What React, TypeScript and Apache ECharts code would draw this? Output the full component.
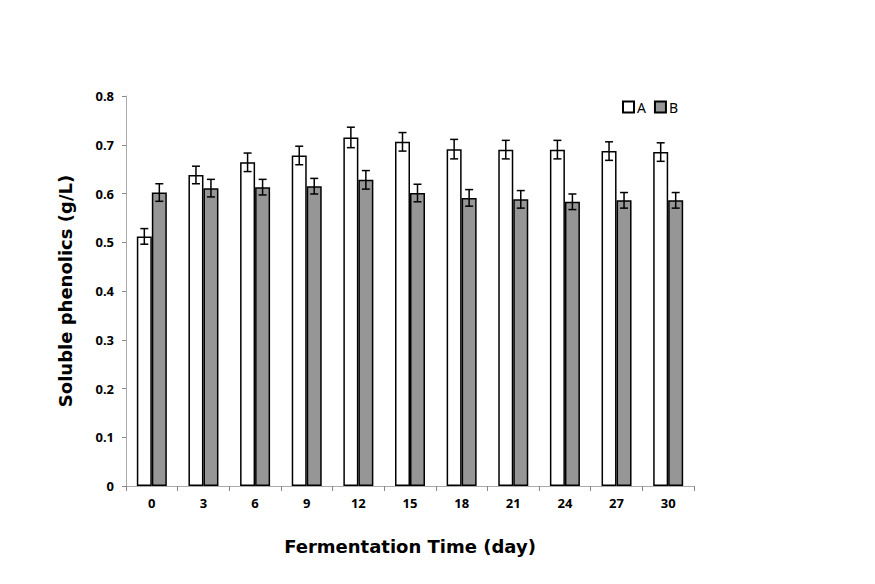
import React, { useEffect, useRef } from "react";
import * as echarts from "echarts";

const categories = ["0", "3", "6", "9", "12", "15", "18", "21", "24", "27", "30"];
const seriesA = [0.512, 0.638, 0.664, 0.678, 0.715, 0.706, 0.691, 0.690, 0.690, 0.687, 0.685];
const errA = [0.016, 0.018, 0.019, 0.019, 0.021, 0.019, 0.020, 0.019, 0.019, 0.019, 0.019];
const seriesB = [0.602, 0.611, 0.613, 0.615, 0.628, 0.601, 0.591, 0.588, 0.583, 0.586, 0.586];
const errB = [0.018, 0.018, 0.016, 0.016, 0.019, 0.018, 0.017, 0.018, 0.016, 0.016, 0.016];
const yTicks = [0, 0.1, 0.2, 0.3, 0.4, 0.5, 0.6, 0.7, 0.8];

const FONT = "'Noto Sans', 'Open Sans', sans-serif";
const TITLE_FONT = "'DejaVu Sans', 'Noto Sans', sans-serif";
const BAR_W = 15;

function errorSeries(name: string, vals: number[], errs: number[], offset: number) {
  return {
    type: "custom",
    name: name + "_err",
    z: 10,
    silent: true,
    data: vals.map((v, i) => [i, v, errs[i]]),
    renderItem: (params: any, api: any) => {
      const i = api.value(0);
      const v = api.value(1);
      const e = api.value(2);
      const top = api.coord([i, v + e]);
      const bot = api.coord([i, v - e]);
      const x = top[0] + offset;
      const cap = 4;
      const style = { stroke: "#000", lineWidth: 1.5 };
      return {
        type: "group",
        children: [
          { type: "line", shape: { x1: x, y1: top[1], x2: x, y2: bot[1] }, style },
          { type: "line", shape: { x1: x - cap, y1: top[1], x2: x + cap, y2: top[1] }, style },
          { type: "line", shape: { x1: x - cap, y1: bot[1], x2: x + cap, y2: bot[1] }, style },
        ],
      };
    },
  };
}

export default function App() {
  const ref = useRef<HTMLDivElement>(null);
  useEffect(() => {
    if (!ref.current) return;
    const chart = echarts.init(ref.current, null, { renderer: "svg" });
    chart.setOption({
      animation: false,
      backgroundColor: "#fff",
      textStyle: { fontFamily: FONT },
      grid: { left: 118, right: 173, top: 88, bottom: 90 },
      legend: {
        left: 609,
        top: 87,
        itemWidth: 11,
        itemHeight: 11,
        itemGap: 8,
        icon: "rect",
        data: ["A", "B"],
        textStyle: { fontFamily: FONT, fontSize: 14, fontWeight: "normal", color: "#000", padding: [0, 0, 0, -2] },
      },
      xAxis: {
        type: "category",
        data: categories,
        name: "Fermentation Time (day)",
        nameLocation: "middle",
        nameGap: 51,
        nameTextStyle: { fontFamily: TITLE_FONT, fontSize: 18, fontWeight: "bold", color: "#000" },
        axisLine: { lineStyle: { color: "#aaa", width: 1 } },
        axisTick: { show: true, inside: false, length: 5, lineStyle: { color: "#888" } },
        axisLabel: { fontFamily: FONT, fontSize: 13, fontWeight: "bold", color: "#000", margin: 10 },
      },
      yAxis: {
        type: "value",
        min: 0,
        max: 0.8,
        interval: 0.1,
        name: "Soluble phenolics (g/L)",
        nameLocation: "middle",
        nameGap: 52,
        nameTextStyle: { fontFamily: TITLE_FONT, fontSize: 18, fontWeight: "bold", color: "#000" },
        axisLine: { show: true, lineStyle: { color: "#aaa", width: 1 } },
        axisTick: { show: true, length: 4, lineStyle: { color: "#888" } },
        splitLine: { show: false },
        axisLabel: {
          fontFamily: FONT,
          fontSize: 13,
          fontWeight: "bold",
          color: "#000",
          margin: 12,
          formatter: (v: number) => {
            const t = yTicks.find((x) => Math.abs(x - v) < 1e-6);
            return t === 0 ? "0" : (t ?? v).toFixed(1);
          },
        },
      },
      series: [
        {
          type: "bar",
          name: "A",
          data: seriesA,
          barWidth: BAR_W,
          barGap: "0%",
          itemStyle: { color: "#ffffff", borderColor: "#000", borderWidth: 1.5 },
        },
        {
          type: "bar",
          name: "B",
          data: seriesB,
          barWidth: BAR_W,
          barGap: "0%",
          itemStyle: { color: "#969696", borderColor: "#000", borderWidth: 1.5 },
        },
        errorSeries("A", seriesA, errA, -BAR_W / 2),
        errorSeries("B", seriesB, errB, BAR_W / 2),
      ],
    });
    return () => chart.dispose();
  }, []);
  return <div ref={ref} style={{ width: 859, height: 568 }} />;
}
